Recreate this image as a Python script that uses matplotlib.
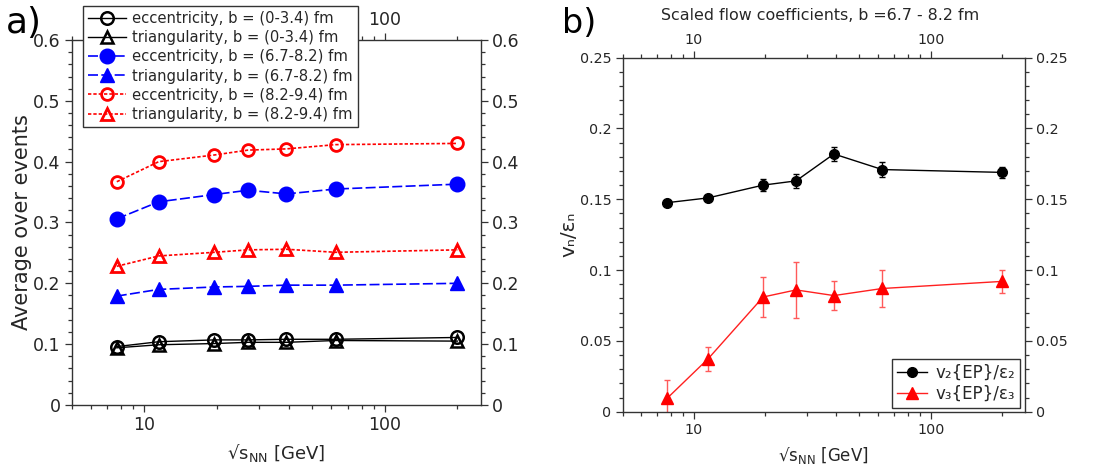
#!/usr/bin/env python3
"""Eccentricity / triangularity vs beam energy, and flow coefficients scaled by them."""

import matplotlib

matplotlib.use("Agg")
import matplotlib.pyplot as plt
from matplotlib.ticker import (MultipleLocator, LogLocator, NullFormatter, NullLocator,
                               FixedLocator, FixedFormatter, FuncFormatter)

SQRT_S = [7.7, 11.5, 19.6, 27.0, 39.0, 62.4, 200.0]

# panel a: event-averaged participant eccentricity and triangularity
ECC_CENTRAL = [0.096, 0.104, 0.107, 0.107, 0.108, 0.108, 0.111]
TRI_CENTRAL = [0.094, 0.099, 0.101, 0.103, 0.103, 0.106, 0.105]
ECC_MID = [0.306, 0.334, 0.346, 0.353, 0.347, 0.355, 0.363]
TRI_MID = [0.179, 0.190, 0.194, 0.195, 0.197, 0.197, 0.200]
ECC_PERIPH = [0.367, 0.400, 0.411, 0.419, 0.421, 0.428, 0.430]
TRI_PERIPH = [0.228, 0.245, 0.251, 0.255, 0.256, 0.251, 0.255]

# panel b: v_n{EP}/eps_n for b = 6.7 - 8.2 fm
V2_SCALED = [0.1476, 0.151, 0.160, 0.163, 0.182, 0.171, 0.169]
V2_ERR = [0.001, 0.001, 0.004, 0.005, 0.005, 0.005, 0.004]
V3_SCALED = [0.0094, 0.0375, 0.081, 0.086, 0.082, 0.087, 0.092]
V3_ERR = [0.013, 0.0085, 0.014, 0.020, 0.010, 0.013, 0.008]

TEXT = "#262626"
SPINE = "#333333"
XLABEL = "√s$_{\\mathrm{NN}}$ [GeV]"

plt.rcParams.update({
    "font.family": "DejaVu Sans",
    "text.color": TEXT,
    "axes.labelcolor": TEXT,
    "xtick.color": SPINE,
    "ytick.color": SPINE,
    "xtick.labelcolor": TEXT,
    "ytick.labelcolor": TEXT,
    "axes.edgecolor": SPINE,
    "axes.linewidth": 1.0,
})


def style_axes(ax, ymax, ymajor, yminor, labelsize, labeltop=True):
    ax.set_xscale("log")
    ax.set_xlim(5, 250)
    ax.set_ylim(0, ymax)
    ax.xaxis.set_major_locator(FixedLocator([10, 100]))
    ax.xaxis.set_major_formatter(FixedFormatter(["10", "100"]))
    ax.xaxis.set_minor_locator(LogLocator(base=10, subs=range(2, 10), numticks=20))
    ax.xaxis.set_minor_formatter(NullFormatter())
    ax.yaxis.set_major_locator(MultipleLocator(ymajor))
    ax.yaxis.set_minor_locator(MultipleLocator(yminor))
    ax.yaxis.set_major_formatter(FuncFormatter(lambda v, _: "0" if abs(v) < 1e-9 else f"{v:g}"))
    ax.tick_params(which="both", direction="out", top=True, right=True,
                   labeltop=labeltop, labelright=True, labelsize=labelsize, width=0.9)
    ax.tick_params(which="major", length=5, pad=3)
    ax.tick_params(which="minor", length=3)


fig = plt.figure(figsize=(11.04, 4.69), dpi=100)

# ---- panel a
ax1 = fig.add_axes([0.0649, 0.1365, 0.3705, 0.7782])
style_axes(ax1, 0.6, 0.1, 0.02, 12.5, labeltop=False)
# the legend covers the top "10", so only "100" gets a label up there
top1 = ax1.secondary_xaxis("top")
top1.set_xticks([100], ["100"])
top1.xaxis.set_minor_locator(NullLocator())
top1.tick_params(length=0, pad=8, labelsize=12.5)
top1.spines["top"].set_visible(False)

ax1.plot(SQRT_S, ECC_CENTRAL, "-", color="black", lw=1.0, marker="o", ms=9,
         mfc="none", mew=1.8, label="eccentricity, b = (0-3.4) fm")
ax1.plot(SQRT_S, TRI_CENTRAL, "-", color="black", lw=1.0, marker="^", ms=9,
         mfc="none", mew=1.8, label="triangularity, b = (0-3.4) fm")
ax1.plot(SQRT_S, ECC_MID, color="blue", lw=1.2, ls=(0, (6, 2)), marker="o", ms=10.5,
         label="eccentricity, b = (6.7-8.2) fm")
ax1.plot(SQRT_S, TRI_MID, color="blue", lw=1.2, ls=(0, (6, 2)), marker="^", ms=10.5,
         label="triangularity, b = (6.7-8.2) fm")
ax1.plot(SQRT_S, ECC_PERIPH, color="red", lw=1.2, ls=(0, (2, 1.2)), marker="o", ms=8.5,
         mfc="none", mew=2.0, label="eccentricity, b = (8.2-9.4) fm")
ax1.plot(SQRT_S, TRI_PERIPH, color="red", lw=1.2, ls=(0, (2, 1.2)), marker="^", ms=8.5,
         mfc="none", mew=2.0, label="triangularity, b = (8.2-9.4) fm")

ax1.set_xlabel(XLABEL, fontsize=13, labelpad=6)
ax1.set_ylabel("Average over events", fontsize=15, labelpad=1)
leg1 = ax1.legend(loc="upper left", bbox_to_anchor=(0.0752, 0.9872),
                  bbox_transform=fig.transFigure, borderaxespad=0, fontsize=10.6,
                  fancybox=False, framealpha=1, edgecolor=SPINE, handlelength=2.6,
                  labelspacing=0.28, borderpad=0.35, handletextpad=0.4)
leg1.get_frame().set_linewidth(1.0)
leg1.set_zorder(10)
fig.text(0.005, 1 - 33 / 469, "a)", fontsize=26, va="baseline", ha="left", color="black")

# ---- panel b
ax2 = fig.add_axes([0.564, 0.1222, 0.3644, 0.7548])
style_axes(ax2, 0.25, 0.05, 0.01, 10.3)

v2 = ax2.errorbar(SQRT_S, V2_SCALED, yerr=V2_ERR, color="black", lw=1.0, marker="o", ms=7,
                  capsize=2.5, elinewidth=1.0)
v3 = ax2.errorbar(SQRT_S, V3_SCALED, yerr=V3_ERR, color="#ff2020", lw=1.0, marker="^", ms=8,
                  mfc="red", mec="red", capsize=2.5, elinewidth=1.0, ecolor="#ff5a5a")

ax2.set_xlabel(XLABEL, fontsize=12, labelpad=6)
ax2.set_ylabel("vₙ/εₙ", fontsize=14.5, labelpad=1)
leg2 = ax2.legend([v2[0], v3[0]], ["v₂{EP}/ε₂", "v₃{EP}/ε₃"],
                  loc="lower right", bbox_to_anchor=(0.9239, 0.130),
                  bbox_transform=fig.transFigure, borderaxespad=0, fontsize=12,
                  fancybox=False, framealpha=1, edgecolor=SPINE, handlelength=1.8,
                  labelspacing=0.2, borderpad=0.3, handletextpad=0.5)
leg2.get_frame().set_linewidth(1.0)
fig.text(0.7433, 1 - 15 / 469, "Scaled flow coefficients, b =6.7 - 8.2 fm",
         fontsize=11.4, ha="center", va="center")
fig.text(0.509, 1 - 33 / 469, "b)", fontsize=24, va="baseline", ha="left", color="black")

fig.savefig("out.png", dpi=100)
